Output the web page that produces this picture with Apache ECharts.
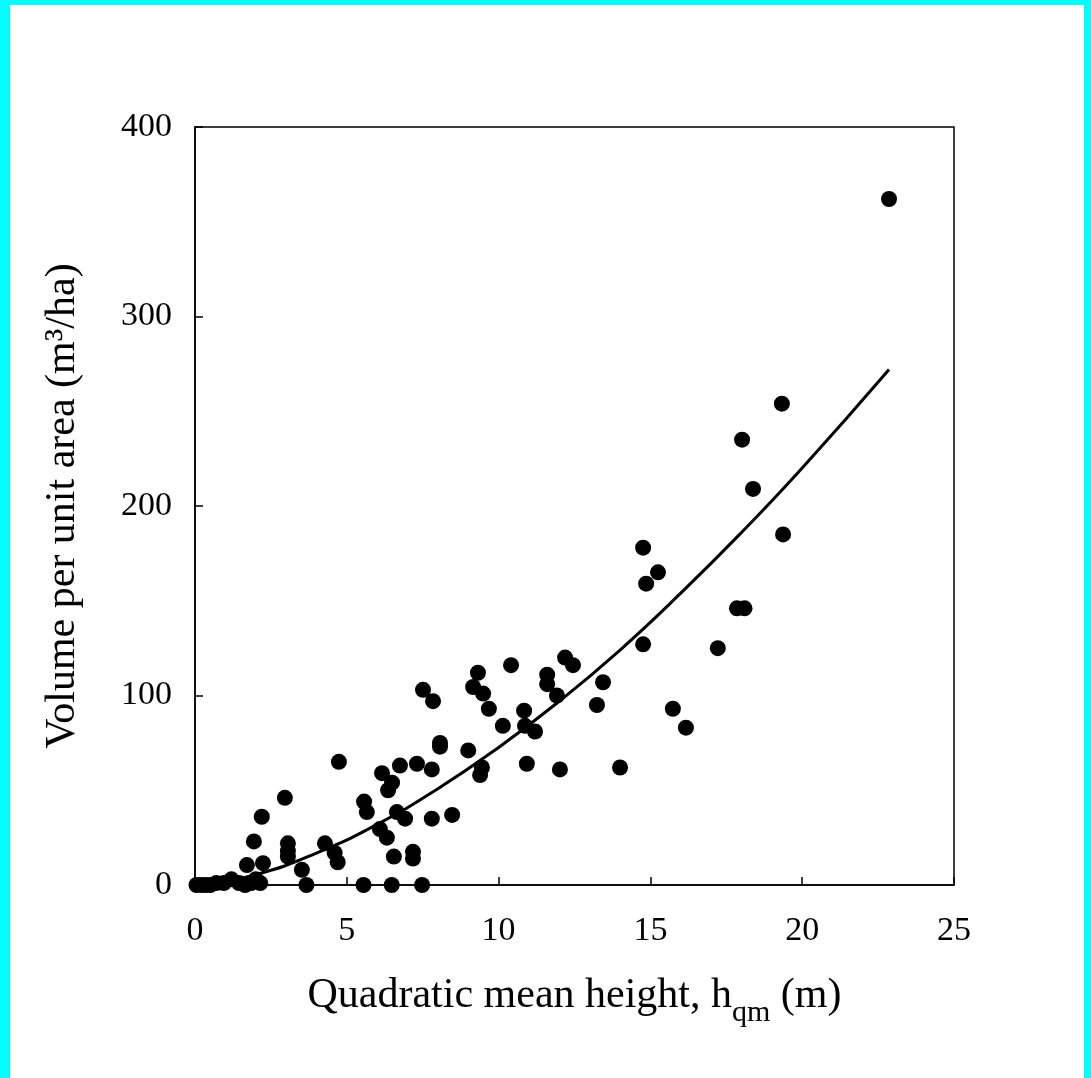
<!DOCTYPE html>
<html>
<head>
<meta charset="utf-8">
<script src="https://cdn.jsdelivr.net/npm/echarts@6/dist/echarts.min.js"></script>
<style>
  html, body { margin: 0; padding: 0; background: #00FFFF; }
  #chart { position: absolute; left: 10px; top: 5px; width: 1074px; height: 1073px; background: #fff; }
</style>
</head>
<body>
<div id="chart"></div>
<script>
// observed plots: quadratic mean height (m) and volume (m3/ha)
const hqm = [
  0.05, 0.2, 0.35, 0.5, 0.7, 0.95, 1.2, 1.45, 1.65, 1.85, 2.0, 2.15,
  1.71, 2.24, 1.94, 2.2, 2.96, 3.06, 3.06, 3.06, 3.52, 3.67,
  4.28, 4.6, 4.7, 4.74,
  5.55, 5.57, 5.66, 6.09, 6.32, 6.55, 6.48,
  6.36, 6.49, 6.16, 6.75, 6.65, 6.92,
  7.18, 7.18, 7.31, 7.8, 7.8, 8.47, 7.48,
  7.51, 7.84, 8.07, 8.07,
  9.0, 9.45, 9.39, 9.16, 9.32, 9.49, 9.68,
  10.14, 10.41, 10.84, 10.87, 11.2, 10.93,
  11.6, 11.6, 11.92, 12.02, 12.19, 12.45,
  13.24, 13.44, 14.0,
  14.76, 15.25, 14.86, 14.76, 15.74, 16.17,
  17.22, 17.85, 18.1,
  18.02, 18.38, 19.33, 19.37, 22.86
];
const volume = [
  0, 0, 0, 0, 1, 1, 3, 1, 0, 1, 3, 1,
  10.5, 11.5, 23, 36, 46, 22, 18, 15, 8, 0,
  22, 17, 12, 65,
  0, 44, 38.5, 29.5, 25, 15, 0,
  50, 54, 59, 63, 38.5, 35,
  17.5, 14, 64, 61, 35, 37, 0,
  103, 97, 75, 73,
  71, 62, 58, 104.5, 112, 101, 93,
  84, 116, 92, 84, 81, 64,
  111, 106, 100, 61, 120, 116,
  95, 107, 62,
  178, 165, 159, 127, 93, 83,
  125, 146, 146,
  235, 209, 254, 185, 362
];
// fitted curve
const fitX = [0.2, 2, 4, 6, 8, 10, 12, 14, 16, 18, 20, 22.86];
const fitY = [0, 5.5, 16.8, 32, 50.8, 72.6, 97, 124, 154, 186, 220, 272];

const xTicks = [0, 5, 10, 15, 20, 25];
const yTicks = [0, 100, 200, 300, 400];

const chart = echarts.init(document.getElementById('chart'));
const font = 'Liberation Serif';

const option = {
  backgroundColor: '#fff',
  animation: false,
  grid: {
    left: 185, top: 122, width: 759, height: 758,
    show: true, borderColor: '#000', borderWidth: 1.5, backgroundColor: 'transparent'
  },
  xAxis: {
    type: 'value',
    min: xTicks[0], max: xTicks[xTicks.length - 1], interval: 5,
    name: '{a|Quadratic mean height, h}{s|qm}{a| (m)}',
    nameLocation: 'middle',
    nameGap: 82,
    nameTextStyle: {
      rich: {
        a: { fontFamily: font, fontSize: 42, color: '#000', lineHeight: 50, verticalAlign: 'bottom' },
        s: { fontFamily: font, fontSize: 30, color: '#000', lineHeight: 50, verticalAlign: 'bottom', padding: [0, 0, -11, 0] }
      }
    },
    axisLine: { show: true, lineStyle: { color: '#000', width: 1.5 } },
    axisTick: { show: true, inside: true, length: 8, lineStyle: { color: '#000', width: 1.5 } },
    axisLabel: { fontFamily: font, fontSize: 34, color: '#000', margin: 29 },
    splitLine: { show: false }
  },
  yAxis: {
    type: 'value',
    min: yTicks[0], max: yTicks[yTicks.length - 1], interval: 100,
    name: 'Volume per unit area (m³/ha)',
    nameLocation: 'middle',
    nameGap: 111,
    nameTextStyle: { fontFamily: font, fontSize: 42, color: '#000' },
    axisLine: { show: true, lineStyle: { color: '#000', width: 1.5 } },
    axisTick: { show: true, inside: true, length: 8, lineStyle: { color: '#000', width: 1.5 } },
    axisLabel: { fontFamily: font, fontSize: 34, color: '#000', margin: 23 },
    splitLine: { show: false }
  },
  series: [
    {
      type: 'scatter',
      data: hqm.map((h, i) => [h, volume[i]]),
      symbol: 'circle',
      symbolSize: 16,
      itemStyle: { color: '#000', opacity: 1 },
      z: 3
    },
    {
      type: 'line',
      data: fitX.map((h, i) => [h, fitY[i]]),
      smooth: true,
      showSymbol: false,
      lineStyle: { color: '#000', width: 3 },
      z: 2
    }
  ]
};
chart.setOption(option);
</script>
</body>
</html>
